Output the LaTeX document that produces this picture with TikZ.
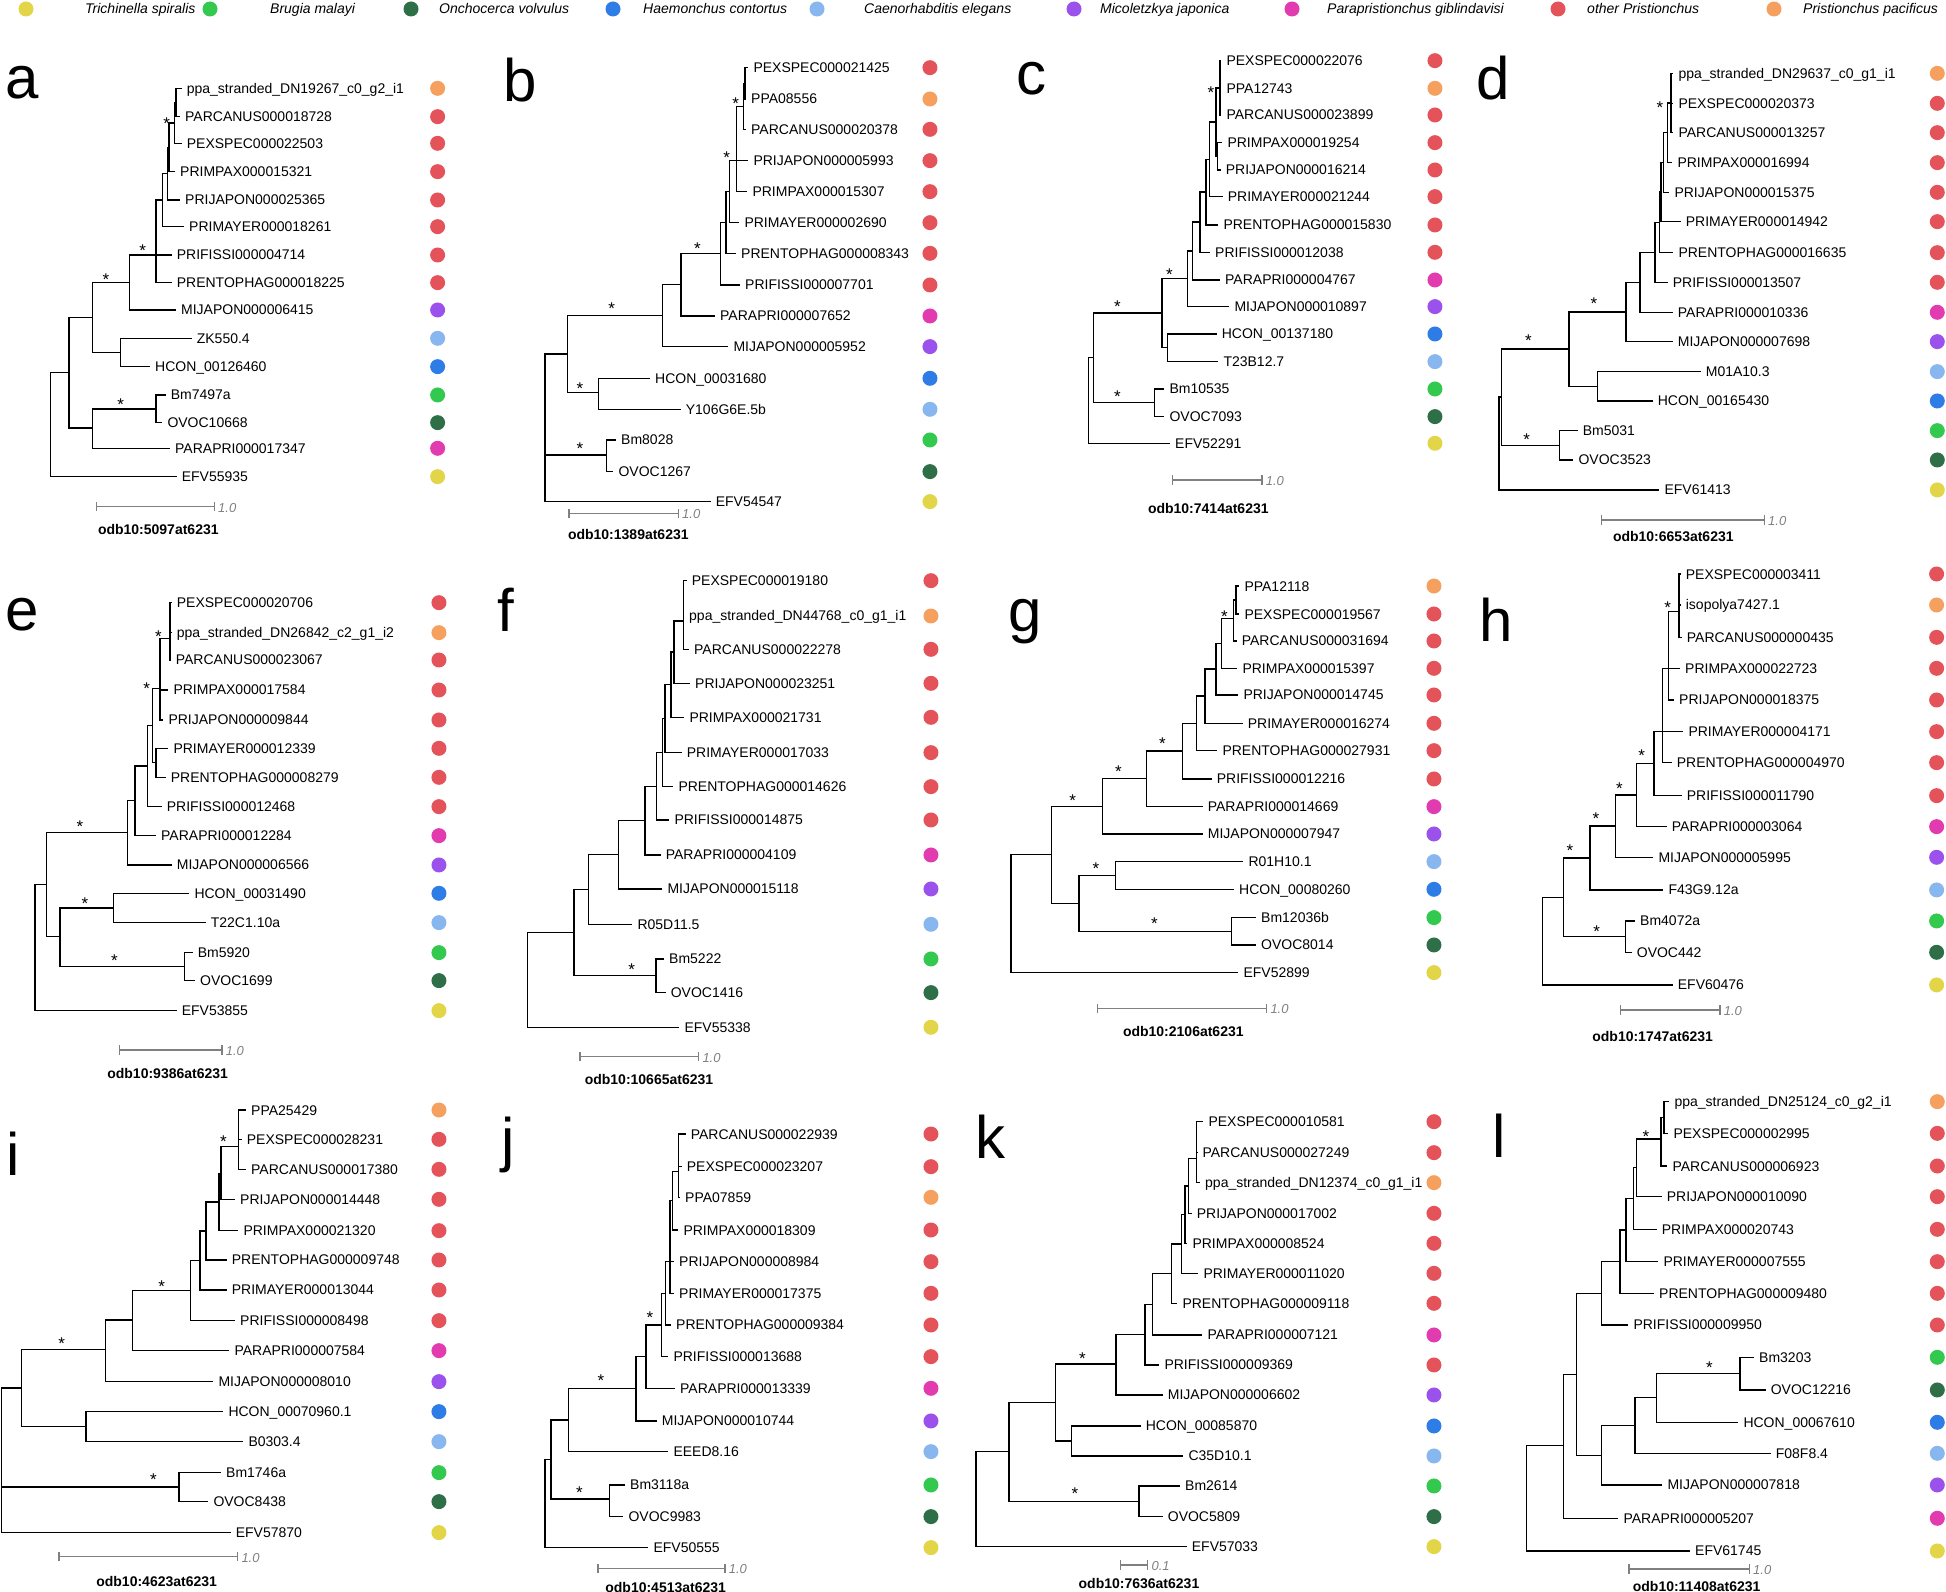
\documentclass[tikz,border=0pt]{standalone}
\usepackage{fontspec}
\setmainfont{Liberation Sans}
\definecolor{tspi}{HTML}{E3D548}
\definecolor{bmal}{HTML}{33C84E}
\definecolor{ovol}{HTML}{2F6F47}
\definecolor{hcon}{HTML}{2E7CE6}
\definecolor{cele}{HTML}{88B6EE}
\definecolor{mjap}{HTML}{9B52EC}
\definecolor{pgib}{HTML}{E23AAF}
\definecolor{prist}{HTML}{E4525A}
\definecolor{ppac}{HTML}{F5A05E}
\tikzset{
  branch/.style={line width=1.3pt},
  leaf/.style={anchor=west, inner xsep=5pt, inner ysep=0pt, text height=10pt, text depth=0pt, font=\fontsize{14}{16}\selectfont},
  spot/.style={circle, minimum size=15pt, inner sep=0pt},
  ast/.style={inner sep=0pt, yshift=-3.5pt, font=\fontsize{17}{19}\selectfont},
  plab/.style={anchor=base west, inner sep=0pt, font=\fontsize{60}{60}\selectfont},
  sbar/.style={|-|, draw=gray, line width=1.3pt},
  slab/.style={anchor=west, inner sep=2pt, text=gray, font=\fontsize{13}{15}\selectfont\itshape},
  ttl/.style={inner sep=0pt, font=\fontsize{14}{16}\selectfont\bfseries},
  key/.style={anchor=west, inner sep=0pt, text height=10pt, text depth=0pt, font=\fontsize{14}{16}\selectfont\itshape}
}
% leaf label + coloured dot
\newcommand{\taxon}[6]{\node[leaf] (#1) at (#2,#3) {#4};
  \node[spot, fill=#5] (#1d) at (#6,#3) {};}

\begin{document}
\begin{tikzpicture}[x=1pt, y=-1pt]
\path[use as bounding box, fill=white] (0,0) rectangle (1946,1592);

% legend
\node[spot, fill=tspi] (lgd1) at (26,9) {};
\node[key] (lgt1) at (85,9) {Trichinella spiralis};
\node[spot, fill=bmal] (lgd2) at (210,9) {};
\node[key] (lgt2) at (270,9) {Brugia malayi};
\node[spot, fill=ovol] (lgd3) at (411,9) {};
\node[key] (lgt3) at (439,9) {Onchocerca volvulus};
\node[spot, fill=hcon] (lgd4) at (613,9) {};
\node[key] (lgt4) at (643,9) {Haemonchus contortus};
\node[spot, fill=cele] (lgd5) at (817,9) {};
\node[key] (lgt5) at (864,9) {Caenorhabditis elegans};
\node[spot, fill=mjap] (lgd6) at (1074,9) {};
\node[key] (lgt6) at (1100,9) {Micoletzkya japonica};
\node[spot, fill=pgib] (lgd7) at (1292,9) {};
\node[key] (lgt7) at (1327,9) {Parapristionchus giblindavisi};
\node[spot, fill=prist] (lgd8) at (1558,9) {};
\node[key] (lgt8) at (1587,9) {other Pristionchus};
\node[spot, fill=ppac] (lgd9) at (1774,9) {};
\node[key] (lgt9) at (1803,9) {Pristionchus pacificus};

% a
\begin{scope}[shift={(0,60)}, x=0.3333pt, y=-0.3333pt]
\node[plab] (aP) at (15,115) {a};
\taxon{aL1}{545}{85}{ppa\_stranded\_DN19267\_c0\_g2\_i1}{ppac}{1313}
\taxon{aL2}{540}{170}{PARCANUS000018728}{prist}{1313}
\taxon{aL3}{545}{250}{PEXSPEC000022503}{prist}{1313}
\taxon{aL4}{525}{335}{PRIMPAX000015321}{prist}{1313}
\taxon{aL5}{540}{420}{PRIJAPON000025365}{prist}{1313}
\taxon{aL6}{552}{500}{PRIMAYER000018261}{prist}{1313}
\taxon{aL7}{515}{585}{PRIFISSI000004714}{prist}{1313}
\taxon{aL8}{515}{668}{PRENTOPHAG000018225}{prist}{1313}
\taxon{aL9}{528}{750}{MIJAPON000006415}{mjap}{1313}
\taxon{aL10}{575}{835}{ZK550.4}{cele}{1313}
\taxon{aL11}{450}{920}{HCON\_00126460}{hcon}{1313}
\taxon{aL12}{497}{1005}{Bm7497a}{bmal}{1313}
\taxon{aL13}{487}{1088}{OVOC10668}{ovol}{1313}
\taxon{aL14}{510}{1165}{PARAPRI000017347}{pgib}{1313}
\taxon{aL15}{530}{1250}{EFV55935}{tspi}{1313}
\coordinate (a1) at (528,128);
\coordinate (a2) at (523,189);
\coordinate (a3) at (507,262);
\coordinate (a4) at (503,341);
\coordinate (a5) at (488,420);
\coordinate (a6) at (468,585);
\coordinate (a7) at (388,668);
\coordinate (a8) at (362,877);
\coordinate (a9) at (278,772);
\coordinate (a10) at (468,1047);
\coordinate (a11) at (278,1104);
\coordinate (a12) at (207,938);
\coordinate (a13) at (152,1094);
\draw[branch] (a1) |- (aL1.west) (a1) |- (aL2.west);
\draw[branch] (a2) |- (a1) (a2) |- (aL3.west);
\draw[branch] (a3) |- (a2) (a3) |- (aL4.west);
\draw[branch] (a4) |- (a3) (a4) |- (aL5.west);
\draw[branch] (a5) |- (a4) (a5) |- (aL6.west);
\draw[branch] (a6) |- (a5) (a6) |- (aL7.west) (a6) |- (aL8.west);
\draw[branch] (a7) |- (a6) (a7) |- (aL9.west);
\draw[branch] (a8) |- (aL10.west) (a8) |- (aL11.west);
\draw[branch] (a9) |- (a7) (a9) |- (a8);
\draw[branch] (a10) |- (aL12.west) (a10) |- (aL13.west);
\draw[branch] (a11) |- (a10) (a11) |- (aL14.west);
\draw[branch] (a12) |- (a9) (a12) |- (a11);
\draw[branch] (a13) |- (a12) (a13) |- (aL15.west);
\node[ast] (aS1) at (500,180) {*};
\node[ast] (aS2) at (428,563) {*};
\node[ast] (aS3) at (318,648) {*};
\node[ast] (aS4) at (362,1025) {*};
\draw[sbar] (287,1340) -- (645,1340);
\node[slab] (aB) at (648,1343) {1.0};
\node[ttl] (aT) at (475,1408) {odb10:5097at6231};
\end{scope}

% b
\begin{scope}[shift={(490,40)}, x=0.3333pt, y=-0.3333pt]
\node[plab] (bP) at (40,185) {b};
\taxon{bL1}{775}{83}{PEXSPEC000021425}{prist}{1320}
\taxon{bL2}{768}{177}{PPA08556}{ppac}{1320}
\taxon{bL3}{768}{268}{PARCANUS000020378}{prist}{1320}
\taxon{bL4}{775}{362}{PRIJAPON000005993}{prist}{1320}
\taxon{bL5}{772}{455}{PRIMPAX000015307}{prist}{1320}
\taxon{bL6}{748}{548}{PRIMAYER000002690}{prist}{1320}
\taxon{bL7}{738}{640}{PRENTOPHAG000008343}{prist}{1320}
\taxon{bL8}{750}{735}{PRIFISSI000007701}{prist}{1320}
\taxon{bL9}{675}{828}{PARAPRI000007652}{pgib}{1320}
\taxon{bL10}{715}{920}{MIJAPON000005952}{mjap}{1320}
\taxon{bL11}{480}{1015}{HCON\_00031680}{hcon}{1320}
\taxon{bL12}{572}{1108}{Y106G6E.5b}{cele}{1320}
\taxon{bL13}{378}{1200}{Bm8028}{bmal}{1320}
\taxon{bL14}{370}{1295}{OVOC1267}{ovol}{1320}
\taxon{bL15}{662}{1385}{EFV54547}{tspi}{1320}
\coordinate (b1) at (765,130);
\coordinate (b2) at (760,199);
\coordinate (b3) at (740,362);
\coordinate (b4) at (718,455);
\coordinate (b5) at (708,548);
\coordinate (b6) at (692,640);
\coordinate (b7) at (573,733);
\coordinate (b8) at (518,826);
\coordinate (b9) at (325,1058);
\coordinate (b10) at (233,942);
\coordinate (b11) at (350,1245);
\coordinate (b12) at (165,1100);
\draw[branch] (b1) |- (bL1.west) (b1) |- (bL2.west);
\draw[branch] (b2) |- (b1) (b2) |- (bL3.west);
\draw[branch] (b3) |- (b2) (b3) |- (bL4.west) (b3) |- (bL5.west);
\draw[branch] (b4) |- (b3) (b4) |- (bL6.west);
\draw[branch] (b5) |- (b4) (b5) |- (bL7.west);
\draw[branch] (b6) |- (b5) (b6) |- (bL8.west);
\draw[branch] (b7) |- (b6) (b7) |- (bL9.west);
\draw[branch] (b8) |- (b7) (b8) |- (bL10.west);
\draw[branch] (b9) |- (bL11.west) (b9) |- (bL12.west);
\draw[branch] (b10) |- (b8) (b10) |- (b9);
\draw[branch] (b11) |- (bL13.west) (b11) |- (bL14.west);
\draw[branch] (b12) |- (b10) (b12) |- (b11) (b12) |- (bL15.west);
\node[ast] (bS1) at (737,180) {*};
\node[ast] (bS2) at (710,343) {*};
\node[ast] (bS3) at (622,615) {*};
\node[ast] (bS4) at (365,795) {*};
\node[ast] (bS5) at (270,1035) {*};
\node[ast] (bS6) at (270,1215) {*};
\draw[sbar] (235,1420) -- (567,1420);
\node[slab] (bB) at (570,1423) {1.0};
\node[ttl] (bT) at (415,1485) {odb10:1389at6231};
\end{scope}

% c
\begin{scope}[shift={(980,0)}, x=0.3333pt, y=-0.3333pt]
\node[plab] (cP) at (110,285) {c};
\taxon{cL1}{724}{182}{PEXSPEC000022076}{prist}{1365}
\taxon{cL2}{724}{265}{PPA12743}{ppac}{1365}
\taxon{cL3}{724}{345}{PARCANUS000023899}{prist}{1365}
\taxon{cL4}{727}{428}{PRIMPAX000019254}{prist}{1365}
\taxon{cL5}{722}{510}{PRIJAPON000016214}{prist}{1365}
\taxon{cL6}{728}{590}{PRIMAYER000021244}{prist}{1365}
\taxon{cL7}{715}{675}{PRENTOPHAG000015830}{prist}{1365}
\taxon{cL8}{690}{757}{PRIFISSI000012038}{prist}{1365}
\taxon{cL9}{720}{840}{PARAPRI000004767}{pgib}{1365}
\taxon{cL10}{748}{920}{MIJAPON000010897}{mjap}{1365}
\taxon{cL11}{710}{1002}{HCON\_00137180}{hcon}{1365}
\taxon{cL12}{715}{1085}{T23B12.7}{cele}{1365}
\taxon{cL13}{553}{1167}{Bm10535}{bmal}{1365}
\taxon{cL14}{553}{1250}{OVOC7093}{ovol}{1365}
\taxon{cL15}{570}{1330}{EFV52291}{tspi}{1365}
\coordinate (c1) at (720,264);
\coordinate (c2a) at (712,469);
\coordinate (c2) at (708,366);
\coordinate (c3) at (688,478);
\coordinate (c4) at (678,576);
\coordinate (c5) at (660,666);
\coordinate (c6) at (638,753);
\coordinate (c7) at (623,836);
\coordinate (c8) at (563,1043);
\coordinate (c9) at (546,939);
\coordinate (c10) at (523,1208);
\coordinate (c11) at (340,1073);
\coordinate (c12) at (325,1200);
\draw[branch] (c1) |- (cL1.west) (c1) |- (cL2.west) (c1) |- (cL3.west);
\draw[branch] (c2a) |- (cL4.west) (c2a) |- (cL5.west);
\draw[branch] (c2) |- (c1) (c2) |- (c2a);
\draw[branch] (c3) |- (c2) (c3) |- (cL6.west);
\draw[branch] (c4) |- (c3) (c4) |- (cL7.west);
\draw[branch] (c5) |- (c4) (c5) |- (cL8.west);
\draw[branch] (c6) |- (c5) (c6) |- (cL9.west);
\draw[branch] (c7) |- (c6) (c7) |- (cL10.west);
\draw[branch] (c8) |- (cL11.west) (c8) |- (cL12.west);
\draw[branch] (c9) |- (c7) (c9) |- (c8);
\draw[branch] (c10) |- (cL13.west) (c10) |- (cL14.west);
\draw[branch] (c11) |- (c9) (c11) |- (c10);
\draw[branch] (c12) |- (c11) (c12) |- (cL15.west);
\node[ast] (cS1) at (693,268) {*};
\node[ast] (cS2) at (568,815) {*};
\node[ast] (cS3) at (412,910) {*};
\node[ast] (cS4) at (412,1180) {*};
\draw[sbar] (575,1440) -- (848,1440);
\node[slab] (cB) at (851,1443) {1.0};
\node[ttl] (cT) at (685,1525) {odb10:7414at6231};
\end{scope}

% d
\begin{scope}[shift={(1460,40)}, x=0.3333pt, y=-0.3333pt]
\node[plab] (dP) at (48,178) {d};
\taxon{dL1}{640}{100}{ppa\_stranded\_DN29637\_c0\_g1\_i1}{ppac}{1432}
\taxon{dL2}{640}{190}{PEXSPEC000020373}{prist}{1432}
\taxon{dL3}{640}{278}{PARCANUS000013257}{prist}{1432}
\taxon{dL4}{637}{368}{PRIMPAX000016994}{prist}{1432}
\taxon{dL5}{628}{457}{PRIJAPON000015375}{prist}{1432}
\taxon{dL6}{662}{545}{PRIMAYER000014942}{prist}{1432}
\taxon{dL7}{640}{638}{PRENTOPHAG000016635}{prist}{1432}
\taxon{dL8}{623}{727}{PRIFISSI000013507}{prist}{1432}
\taxon{dL9}{638}{817}{PARAPRI000010336}{pgib}{1432}
\taxon{dL10}{638}{905}{MIJAPON000007698}{mjap}{1432}
\taxon{dL11}{722}{995}{M01A10.3}{cele}{1432}
\taxon{dL12}{578}{1083}{HCON\_00165430}{hcon}{1432}
\taxon{dL13}{353}{1172}{Bm5031}{bmal}{1432}
\taxon{dL14}{340}{1260}{OVOC3523}{ovol}{1432}
\taxon{dL15}{598}{1350}{EFV61413}{tspi}{1432}
\coordinate (d1) at (633,189);
\coordinate (d2) at (622,278);
\coordinate (d3) at (610,368);
\coordinate (d4) at (603,456);
\coordinate (d5) at (598,547);
\coordinate (d6) at (585,637);
\coordinate (d7) at (540,727);
\coordinate (d8) at (498,816);
\coordinate (d9) at (412,1039);
\coordinate (d10) at (327,927);
\coordinate (d11) at (298,1216);
\coordinate (d12) at (125,1071);
\coordinate (d13) at (117,1210);
\draw[branch] (d1) |- (dL1.west) (d1) |- (dL2.west) (d1) |- (dL3.west);
\draw[branch] (d2) |- (d1) (d2) |- (dL4.west);
\draw[branch] (d3) |- (d2) (d3) |- (dL5.west);
\draw[branch] (d4) |- (d3) (d4) |- (dL6.west);
\draw[branch] (d5) |- (d4) (d5) |- (dL7.west);
\draw[branch] (d6) |- (d5) (d6) |- (dL8.west);
\draw[branch] (d7) |- (d6) (d7) |- (dL9.west);
\draw[branch] (d8) |- (d7) (d8) |- (dL10.west);
\draw[branch] (d9) |- (dL11.west) (d9) |- (dL12.west);
\draw[branch] (d10) |- (d8) (d10) |- (d9);
\draw[branch] (d11) |- (dL13.west) (d11) |- (dL14.west);
\draw[branch] (d12) |- (d10) (d12) |- (d11);
\draw[branch] (d13) |- (d12) (d13) |- (dL15.west);
\node[ast] (dS1) at (600,193) {*};
\node[ast] (dS2) at (402,782) {*};
\node[ast] (dS3) at (205,893) {*};
\node[ast] (dS4) at (200,1188) {*};
\draw[sbar] (423,1440) -- (915,1440);
\node[slab] (dB) at (918,1443) {1.0};
\node[ttl] (dT) at (640,1490) {odb10:6653at6231};
\end{scope}

% e
\begin{scope}[shift={(0,570)}, x=0.3333pt, y=-0.3333pt]
\node[plab] (eP) at (15,183) {e};
\taxon{eL1}{515}{98}{PEXSPEC000020706}{prist}{1317}
\taxon{eL2}{515}{188}{ppa\_stranded\_DN26842\_c2\_g1\_i2}{ppac}{1317}
\taxon{eL3}{512}{270}{PARCANUS000023067}{prist}{1317}
\taxon{eL4}{505}{360}{PRIMPAX000017584}{prist}{1317}
\taxon{eL5}{490}{450}{PRIJAPON000009844}{prist}{1317}
\taxon{eL6}{505}{535}{PRIMAYER000012339}{prist}{1317}
\taxon{eL7}{497}{622}{PRENTOPHAG000008279}{prist}{1317}
\taxon{eL8}{485}{710}{PRIFISSI000012468}{prist}{1317}
\taxon{eL9}{468}{797}{PARAPRI000012284}{pgib}{1317}
\taxon{eL10}{515}{885}{MIJAPON000006566}{mjap}{1317}
\taxon{eL11}{568}{970}{HCON\_00031490}{hcon}{1317}
\taxon{eL12}{617}{1058}{T22C1.10a}{cele}{1317}
\taxon{eL13}{578}{1148}{Bm5920}{bmal}{1317}
\taxon{eL14}{585}{1232}{OVOC1699}{ovol}{1317}
\taxon{eL15}{530}{1322}{EFV53855}{tspi}{1317}
\coordinate (e1) at (510,205);
\coordinate (e2) at (480,355);
\coordinate (e3) at (468,578);
\coordinate (e4) at (458,466);
\coordinate (e5) at (442,588);
\coordinate (e6) at (405,692);
\coordinate (e7) at (382,788);
\coordinate (e8) at (340,1014);
\coordinate (e9) at (553,1190);
\coordinate (e10) at (180,1100);
\coordinate (e11) at (140,944);
\coordinate (e12) at (105,1133);
\draw[branch] (e1) |- (eL1.west) (e1) |- (eL2.west) (e1) |- (eL3.west);
\draw[branch] (e2) |- (e1) (e2) |- (eL4.west) (e2) |- (eL5.west);
\draw[branch] (e3) |- (eL6.west) (e3) |- (eL7.west);
\draw[branch] (e4) |- (e2) (e4) |- (e3);
\draw[branch] (e5) |- (e4) (e5) |- (eL8.west);
\draw[branch] (e6) |- (e5) (e6) |- (eL9.west);
\draw[branch] (e7) |- (e6) (e7) |- (eL10.west);
\draw[branch] (e8) |- (eL11.west) (e8) |- (eL12.west);
\draw[branch] (e9) |- (eL13.west) (e9) |- (eL14.west);
\draw[branch] (e10) |- (e8) (e10) |- (e9);
\draw[branch] (e11) |- (e7) (e11) |- (e10);
\draw[branch] (e12) |- (e11) (e12) |- (eL15.west);
\node[ast] (eS1) at (475,188) {*};
\node[ast] (eS2) at (440,345) {*};
\node[ast] (eS3) at (240,760) {*};
\node[ast] (eS4) at (255,992) {*};
\node[ast] (eS5) at (343,1162) {*};
\draw[sbar] (357,1440) -- (668,1440);
\node[slab] (eB) at (671,1443) {1.0};
\node[ttl] (eT) at (503,1512) {odb10:9386at6231};
\end{scope}

% f
\begin{scope}[shift={(490,560)}, x=0.3333pt, y=-0.3333pt]
\node[plab] (fP) at (22,215) {f};
\taxon{fL1}{590}{62}{PEXSPEC000019180}{prist}{1323}
\taxon{fL2}{582}{168}{ppa\_stranded\_DN44768\_c0\_g1\_i1}{ppac}{1323}
\taxon{fL3}{597}{268}{PARCANUS000022278}{prist}{1323}
\taxon{fL4}{600}{370}{PRIJAPON000023251}{prist}{1323}
\taxon{fL5}{583}{472}{PRIMPAX000021731}{prist}{1323}
\taxon{fL6}{575}{578}{PRIMAYER000017033}{prist}{1323}
\taxon{fL7}{550}{680}{PRENTOPHAG000014626}{prist}{1323}
\taxon{fL8}{538}{780}{PRIFISSI000014875}{prist}{1323}
\taxon{fL9}{512}{885}{PARAPRI000004109}{pgib}{1323}
\taxon{fL10}{517}{987}{MIJAPON000015118}{mjap}{1323}
\taxon{fL11}{427}{1093}{R05D11.5}{cele}{1323}
\taxon{fL12}{522}{1197}{Bm5222}{bmal}{1323}
\taxon{fL13}{527}{1298}{OVOC1416}{ovol}{1323}
\taxon{fL14}{568}{1402}{EFV55338}{tspi}{1323}
\coordinate (f1) at (580,183);
\coordinate (f2) at (552,276);
\coordinate (f3) at (543,374);
\coordinate (f4) at (525,476);
\coordinate (f5) at (517,578);
\coordinate (f6) at (500,679);
\coordinate (f7) at (465,782);
\coordinate (f8) at (385,884);
\coordinate (f9) at (295,988);
\coordinate (f10) at (498,1247);
\coordinate (f11) at (252,1118);
\coordinate (f12) at (112,1260);
\draw[branch] (f1) |- (fL1.west) (f1) |- (fL2.west) (f1) |- (fL3.west);
\draw[branch] (f2) |- (f1) (f2) |- (fL4.west);
\draw[branch] (f3) |- (f2) (f3) |- (fL5.west);
\draw[branch] (f4) |- (f3) (f4) |- (fL6.west);
\draw[branch] (f5) |- (f4) (f5) |- (fL7.west);
\draw[branch] (f6) |- (f5) (f6) |- (fL8.west);
\draw[branch] (f7) |- (f6) (f7) |- (fL9.west);
\draw[branch] (f8) |- (f7) (f8) |- (fL10.west);
\draw[branch] (f9) |- (f8) (f9) |- (fL11.west);
\draw[branch] (f10) |- (fL12.west) (f10) |- (fL13.west);
\draw[branch] (f11) |- (f9) (f11) |- (f10);
\draw[branch] (f12) |- (f11) (f12) |- (fL14.west);
\node[ast] (fS1) at (425,1218) {*};
\draw[sbar] (268,1490) -- (628,1490);
\node[slab] (fB) at (631,1493) {1.0};
\node[ttl] (fT) at (477,1560) {odb10:10665at6231};
\end{scope}

% g
\begin{scope}[shift={(980,560)}, x=0.3333pt, y=-0.3333pt]
\node[plab] (gP) at (85,215) {g};
\taxon{gL1}{778}{78}{PPA12118}{ppac}{1362}
\taxon{gL2}{778}{162}{PEXSPEC000019567}{prist}{1362}
\taxon{gL3}{770}{243}{PARCANUS000031694}{prist}{1362}
\taxon{gL4}{772}{325}{PRIMPAX000015397}{prist}{1362}
\taxon{gL5}{775}{405}{PRIJAPON000014745}{prist}{1362}
\taxon{gL6}{788}{490}{PRIMAYER000016274}{prist}{1362}
\taxon{gL7}{712}{572}{PRENTOPHAG000027931}{prist}{1362}
\taxon{gL8}{695}{657}{PRIFISSI000012216}{prist}{1362}
\taxon{gL9}{668}{740}{PARAPRI000014669}{pgib}{1362}
\taxon{gL10}{668}{822}{MIJAPON000007947}{mjap}{1362}
\taxon{gL11}{790}{905}{R01H10.1}{cele}{1362}
\taxon{gL12}{762}{988}{HCON\_00080260}{hcon}{1362}
\taxon{gL13}{828}{1073}{Bm12036b}{bmal}{1362}
\taxon{gL14}{828}{1155}{OVOC8014}{ovol}{1362}
\taxon{gL15}{775}{1238}{EFV52899}{tspi}{1362}
\coordinate (g1) at (768,120);
\coordinate (g2) at (760,175);
\coordinate (g3) at (725,250);
\coordinate (g4) at (708,327);
\coordinate (g5) at (675,408);
\coordinate (g6) at (650,490);
\coordinate (g7) at (607,573);
\coordinate (g8) at (500,656);
\coordinate (g9) at (368,739);
\coordinate (g10) at (407,946);
\coordinate (g11) at (755,1114);
\coordinate (g12) at (297,1030);
\coordinate (g13) at (215,884);
\coordinate (g14) at (93,1061);
\draw[branch] (g1) |- (gL1.west) (g1) |- (gL2.west);
\draw[branch] (g2) |- (g1) (g2) |- (gL3.west);
\draw[branch] (g3) |- (g2) (g3) |- (gL4.west);
\draw[branch] (g4) |- (g3) (g4) |- (gL5.west);
\draw[branch] (g5) |- (g4) (g5) |- (gL6.west);
\draw[branch] (g6) |- (g5) (g6) |- (gL7.west);
\draw[branch] (g7) |- (g6) (g7) |- (gL8.west);
\draw[branch] (g8) |- (g7) (g8) |- (gL9.west);
\draw[branch] (g9) |- (g8) (g9) |- (gL10.west);
\draw[branch] (g10) |- (gL11.west) (g10) |- (gL12.west);
\draw[branch] (g11) |- (gL13.west) (g11) |- (gL14.west);
\draw[branch] (g12) |- (g10) (g12) |- (g11);
\draw[branch] (g13) |- (g9) (g13) |- (g12);
\draw[branch] (g14) |- (g13) (g14) |- (gL15.west);
\node[ast] (gS1) at (733,160) {*};
\node[ast] (gS2) at (547,540) {*};
\node[ast] (gS3) at (415,625) {*};
\node[ast] (gS4) at (278,712) {*};
\node[ast] (gS5) at (348,917) {*};
\node[ast] (gS6) at (523,1082) {*};
\draw[sbar] (350,1345) -- (862,1345);
\node[slab] (gB) at (865,1348) {1.0};
\node[ttl] (gT) at (610,1415) {odb10:2106at6231};
\end{scope}

% h
\begin{scope}[shift={(1460,550)}, x=0.3333pt, y=-0.3333pt]
\node[plab] (hP) at (58,275) {h};
\taxon{hL1}{662}{72}{PEXSPEC000003411}{prist}{1430}
\taxon{hL2}{662}{165}{isopolya7427.1}{ppac}{1430}
\taxon{hL3}{665}{262}{PARCANUS000000435}{prist}{1430}
\taxon{hL4}{660}{355}{PRIMPAX000022723}{prist}{1430}
\taxon{hL5}{642}{450}{PRIJAPON000018375}{prist}{1430}
\taxon{hL6}{670}{545}{PRIMAYER000004171}{prist}{1430}
\taxon{hL7}{635}{638}{PRENTOPHAG000004970}{prist}{1430}
\taxon{hL8}{665}{737}{PRIFISSI000011790}{prist}{1430}
\taxon{hL9}{620}{830}{PARAPRI000003064}{pgib}{1430}
\taxon{hL10}{580}{922}{MIJAPON000005995}{mjap}{1430}
\taxon{hL11}{610}{1020}{F43G9.12a}{cele}{1430}
\taxon{hL12}{525}{1113}{Bm4072a}{bmal}{1430}
\taxon{hL13}{515}{1207}{OVOC442}{ovol}{1430}
\taxon{hL14}{638}{1305}{EFV60476}{tspi}{1430}
\coordinate (h1) at (657,185);
\coordinate (h2) at (626,355);
\coordinate (h3) at (608,545);
\coordinate (h4) at (582,640);
\coordinate (h5) at (530,735);
\coordinate (h6) at (467,828);
\coordinate (h7) at (390,924);
\coordinate (h8) at (497,1160);
\coordinate (h9) at (310,1042);
\coordinate (h10) at (247,1174);
\draw[branch] (h1) |- (hL1.west) (h1) |- (hL2.west) (h1) |- (hL3.west);
\draw[branch] (h2) |- (h1) (h2) |- (hL4.west) (h2) |- (hL5.west);
\draw[branch] (h3) |- (h2) (h3) |- (hL6.west) (h3) |- (hL7.west);
\draw[branch] (h4) |- (h3) (h4) |- (hL8.west);
\draw[branch] (h5) |- (h4) (h5) |- (hL9.west);
\draw[branch] (h6) |- (h5) (h6) |- (hL10.west);
\draw[branch] (h7) |- (h6) (h7) |- (hL11.west);
\draw[branch] (h8) |- (hL12.west) (h8) |- (hL13.west);
\draw[branch] (h9) |- (h7) (h9) |- (h8);
\draw[branch] (h10) |- (h9) (h10) |- (hL14.west);
\node[ast] (hS1) at (623,163) {*};
\node[ast] (hS2) at (545,605) {*};
\node[ast] (hS3) at (478,705) {*};
\node[ast] (hS4) at (408,795) {*};
\node[ast] (hS5) at (330,892) {*};
\node[ast] (hS6) at (410,1135) {*};
\draw[sbar] (480,1380) -- (782,1380);
\node[slab] (hB) at (785,1383) {1.0};
\node[ttl] (hT) at (578,1460) {odb10:1747at6231};
\end{scope}

% i
\begin{scope}[shift={(0,1090)}, x=0.3333pt, y=-0.3333pt]
\node[plab] (iP) at (18,255) {i};
\taxon{iL1}{738}{60}{PPA25429}{ppac}{1317}
\taxon{iL2}{725}{148}{PEXSPEC000028231}{prist}{1317}
\taxon{iL3}{738}{238}{PARCANUS000017380}{prist}{1317}
\taxon{iL4}{705}{328}{PRIJAPON000014448}{prist}{1317}
\taxon{iL5}{715}{422}{PRIMPAX000021320}{prist}{1317}
\taxon{iL6}{680}{510}{PRENTOPHAG000009748}{prist}{1317}
\taxon{iL7}{680}{600}{PRIMAYER000013044}{prist}{1317}
\taxon{iL8}{705}{692}{PRIFISSI000008498}{prist}{1317}
\taxon{iL9}{688}{782}{PARAPRI000007584}{pgib}{1317}
\taxon{iL10}{640}{875}{MIJAPON000008010}{mjap}{1317}
\taxon{iL11}{670}{965}{HCON\_00070960.1}{hcon}{1317}
\taxon{iL12}{730}{1055}{B0303.4}{cele}{1317}
\taxon{iL13}{663}{1148}{Bm1746a}{bmal}{1317}
\taxon{iL14}{625}{1235}{OVOC8438}{ovol}{1317}
\taxon{iL15}{692}{1328}{EFV57870}{tspi}{1317}
\coordinate (i1) at (715,170);
\coordinate (i2) at (663,250);
\coordinate (i3) at (657,336);
\coordinate (i4) at (618,423);
\coordinate (i5) at (600,511);
\coordinate (i6) at (572,602);
\coordinate (i7) at (398,690);
\coordinate (i8) at (317,778);
\coordinate (i9) at (258,1010);
\coordinate (i10) at (65,894);
\coordinate (i11) at (537,1191);
\coordinate (i12) at (5,1191);
\draw[branch] (i1) |- (iL1.west) (i1) |- (iL2.west) (i1) |- (iL3.west);
\draw[branch] (i2) |- (i1) (i2) |- (iL4.west);
\draw[branch] (i3) |- (i2) (i3) |- (iL5.west);
\draw[branch] (i4) |- (i3) (i4) |- (iL6.west);
\draw[branch] (i5) |- (i4) (i5) |- (iL7.west);
\draw[branch] (i6) |- (i5) (i6) |- (iL8.west);
\draw[branch] (i7) |- (i6) (i7) |- (iL9.west);
\draw[branch] (i8) |- (i7) (i8) |- (iL10.west);
\draw[branch] (i9) |- (iL11.west) (i9) |- (iL12.west);
\draw[branch] (i10) |- (i8) (i10) |- (i9);
\draw[branch] (i11) |- (iL13.west) (i11) |- (iL14.west);
\draw[branch] (i12) |- (i10) (i12) |- (i11) (i12) |- (iL15.west);
\node[ast] (iS1) at (670,145) {*};
\node[ast] (iS2) at (485,580) {*};
\node[ast] (iS3) at (185,750) {*};
\node[ast] (iS4) at (460,1160) {*};
\draw[sbar] (175,1400) -- (715,1400);
\node[slab] (iB) at (718,1403) {1.0};
\node[ttl] (iT) at (470,1475) {odb10:4623at6231};
\end{scope}

% j
\begin{scope}[shift={(500,1110)}, x=0.3333pt, y=-0.3333pt]
\node[plab] (jP) at (5,150) {j};
\taxon{jL1}{557}{72}{PARCANUS000022939}{prist}{1293}
\taxon{jL2}{545}{170}{PEXSPEC000023207}{prist}{1293}
\taxon{jL3}{540}{262}{PPA07859}{ppac}{1293}
\taxon{jL4}{535}{360}{PRIMPAX000018309}{prist}{1293}
\taxon{jL5}{522}{455}{PRIJAPON000008984}{prist}{1293}
\taxon{jL6}{522}{550}{PRIMAYER000017375}{prist}{1293}
\taxon{jL7}{513}{645}{PRENTOPHAG000009384}{prist}{1293}
\taxon{jL8}{505}{740}{PRIFISSI000013688}{prist}{1293}
\taxon{jL9}{525}{835}{PARAPRI000013339}{pgib}{1293}
\taxon{jL10}{470}{933}{MIJAPON000010744}{mjap}{1293}
\taxon{jL11}{505}{1025}{EEED8.16}{cele}{1293}
\taxon{jL12}{375}{1125}{Bm3118a}{bmal}{1293}
\taxon{jL13}{370}{1220}{OVOC9983}{ovol}{1293}
\taxon{jL14}{445}{1313}{EFV50555}{tspi}{1293}
\coordinate (j1) at (535,185);
\coordinate (j2) at (518,272);
\coordinate (j3) at (510,455);
\coordinate (j4) at (497,550);
\coordinate (j5) at (485,645);
\coordinate (j6) at (438,740);
\coordinate (j7) at (408,836);
\coordinate (j8) at (205,930);
\coordinate (j9) at (328,1167);
\coordinate (j10) at (153,1048);
\coordinate (j11) at (135,1180);
\draw[branch] (j1) |- (jL1.west) (j1) |- (jL2.west) (j1) |- (jL3.west);
\draw[branch] (j2) |- (j1) (j2) |- (jL4.west);
\draw[branch] (j3) |- (j2) (j3) |- (jL5.west) (j3) |- (jL6.west);
\draw[branch] (j4) |- (j3) (j4) |- (jL7.west);
\draw[branch] (j5) |- (j4) (j5) |- (jL8.west);
\draw[branch] (j6) |- (j5) (j6) |- (jL9.west);
\draw[branch] (j7) |- (j6) (j7) |- (jL10.west);
\draw[branch] (j8) |- (j7) (j8) |- (jL11.west);
\draw[branch] (j9) |- (jL12.west) (j9) |- (jL13.west);
\draw[branch] (j10) |- (j8) (j10) |- (j9);
\draw[branch] (j11) |- (j10) (j11) |- (jL14.west);
\node[ast] (jS1) at (450,612) {*};
\node[ast] (jS2) at (303,800) {*};
\node[ast] (jS3) at (238,1138) {*};
\draw[sbar] (292,1375) -- (677,1375);
\node[slab] (jB) at (680,1378) {1.0};
\node[ttl] (jT) at (497,1432) {odb10:4513at6231};
\end{scope}

% k
\begin{scope}[shift={(970,1090)}, x=0.3333pt, y=-0.3333pt]
\node[plab] (kP) at (15,205) {k};
\taxon{kL1}{700}{95}{PEXSPEC000010581}{prist}{1392}
\taxon{kL2}{682}{188}{PARCANUS000027249}{prist}{1392}
\taxon{kL3}{690}{278}{ppa\_stranded\_DN12374\_c0\_g1\_i1}{ppac}{1392}
\taxon{kL4}{665}{370}{PRIJAPON000017002}{prist}{1392}
\taxon{kL5}{652}{460}{PRIMPAX000008524}{prist}{1392}
\taxon{kL6}{685}{550}{PRIMAYER000011020}{prist}{1392}
\taxon{kL7}{622}{640}{PRENTOPHAG000009118}{prist}{1392}
\taxon{kL8}{697}{735}{PARAPRI000007121}{pgib}{1392}
\taxon{kL9}{568}{825}{PRIFISSI000009369}{prist}{1392}
\taxon{kL10}{578}{915}{MIJAPON000006602}{mjap}{1392}
\taxon{kL11}{512}{1008}{HCON\_00085870}{hcon}{1392}
\taxon{kL12}{640}{1098}{C35D10.1}{cele}{1392}
\taxon{kL13}{630}{1188}{Bm2614}{bmal}{1392}
\taxon{kL14}{578}{1280}{OVOC5809}{ovol}{1392}
\taxon{kL15}{650}{1370}{EFV57033}{tspi}{1392}
\coordinate (k1) at (680,205);
\coordinate (k2) at (655,288);
\coordinate (k3) at (645,374);
\coordinate (k4) at (635,462);
\coordinate (k5) at (605,551);
\coordinate (k6) at (548,643);
\coordinate (k7) at (525,734);
\coordinate (k8) at (438,822);
\coordinate (k9) at (305,1053);
\coordinate (k10) at (257,937);
\coordinate (k11) at (507,1234);
\coordinate (k12) at (117,1085);
\coordinate (k13) at (18,1228);
\draw[branch] (k1) |- (kL1.west) (k1) |- (kL2.west) (k1) |- (kL3.west);
\draw[branch] (k2) |- (k1) (k2) |- (kL4.west);
\draw[branch] (k3) |- (k2) (k3) |- (kL5.west);
\draw[branch] (k4) |- (k3) (k4) |- (kL6.west);
\draw[branch] (k5) |- (k4) (k5) |- (kL7.west);
\draw[branch] (k6) |- (k5) (k6) |- (kL8.west);
\draw[branch] (k7) |- (k6) (k7) |- (kL9.west);
\draw[branch] (k8) |- (k7) (k8) |- (kL10.west);
\draw[branch] (k9) |- (kL11.west) (k9) |- (kL12.west);
\draw[branch] (k10) |- (k8) (k10) |- (k9);
\draw[branch] (k11) |- (kL13.west) (k11) |- (kL14.west);
\draw[branch] (k12) |- (k10) (k12) |- (k11);
\draw[branch] (k13) |- (k12) (k13) |- (kL15.west);
\node[ast] (kS1) at (337,795) {*};
\node[ast] (kS2) at (315,1200) {*};
\draw[sbar] (450,1425) -- (535,1425);
\node[slab] (kB) at (538,1428) {0.1};
\node[ttl] (kT) at (507,1480) {odb10:7636at6231};
\end{scope}

% l
\begin{scope}[shift={(1460,1080)}, x=0.3333pt, y=-0.3333pt]
\node[plab] (lP) at (97,232) {l};
\taxon{lL1}{628}{65}{ppa\_stranded\_DN25124\_c0\_g2\_i1}{ppac}{1432}
\taxon{lL2}{625}{160}{PEXSPEC000002995}{prist}{1432}
\taxon{lL3}{622}{258}{PARCANUS000006923}{prist}{1432}
\taxon{lL4}{605}{350}{PRIJAPON000010090}{prist}{1432}
\taxon{lL5}{590}{448}{PRIMPAX000020743}{prist}{1432}
\taxon{lL6}{595}{545}{PRIMAYER000007555}{prist}{1432}
\taxon{lL7}{582}{640}{PRENTOPHAG000009480}{prist}{1432}
\taxon{lL8}{505}{735}{PRIFISSI000009950}{prist}{1432}
\taxon{lL9}{882}{832}{Bm3203}{bmal}{1432}
\taxon{lL10}{917}{930}{OVOC12216}{ovol}{1432}
\taxon{lL11}{835}{1027}{HCON\_00067610}{hcon}{1432}
\taxon{lL12}{932}{1120}{F08F8.4}{cele}{1432}
\taxon{lL13}{607}{1215}{MIJAPON000007818}{mjap}{1432}
\taxon{lL14}{475}{1315}{PARAPRI000005207}{pgib}{1432}
\taxon{lL15}{690}{1413}{EFV61745}{tspi}{1432}
\coordinate (l1) at (612,112);
\coordinate (l2) at (603,177);
\coordinate (l3) at (530,263);
\coordinate (l4) at (520,355);
\coordinate (l5) at (498,450);
\coordinate (l6) at (480,545);
\coordinate (l7) at (425,640);
\coordinate (l8) at (840,880);
\coordinate (l9) at (590,952);
\coordinate (l10) at (525,1036);
\coordinate (l11) at (425,1126);
\coordinate (l12) at (350,883);
\coordinate (l13) at (310,1097);
\coordinate (l14) at (200,1255);
\draw[branch] (l1) |- (lL1.west) (l1) |- (lL2.west);
\draw[branch] (l2) |- (l1) (l2) |- (lL3.west);
\draw[branch] (l3) |- (l2) (l3) |- (lL4.west);
\draw[branch] (l4) |- (l3) (l4) |- (lL5.west);
\draw[branch] (l5) |- (l4) (l5) |- (lL6.west);
\draw[branch] (l6) |- (l5) (l6) |- (lL7.west);
\draw[branch] (l7) |- (l6) (l7) |- (lL8.west);
\draw[branch] (l8) |- (lL9.west) (l8) |- (lL10.west);
\draw[branch] (l9) |- (l8) (l9) |- (lL11.west);
\draw[branch] (l10) |- (l9) (l10) |- (lL12.west);
\draw[branch] (l11) |- (l10) (l11) |- (lL13.west);
\draw[branch] (l12) |- (l7) (l12) |- (l11);
\draw[branch] (l13) |- (l12) (l13) |- (lL14.west);
\draw[branch] (l14) |- (l13) (l14) |- (lL15.west);
\node[ast] (lS1) at (558,158) {*};
\node[ast] (lS2) at (748,853) {*};
\draw[sbar] (505,1467) -- (870,1467);
\node[slab] (lB) at (873,1470) {1.0};
\node[ttl] (lT) at (710,1520) {odb10:11408at6231};
\end{scope}
\end{tikzpicture}
\end{document}
